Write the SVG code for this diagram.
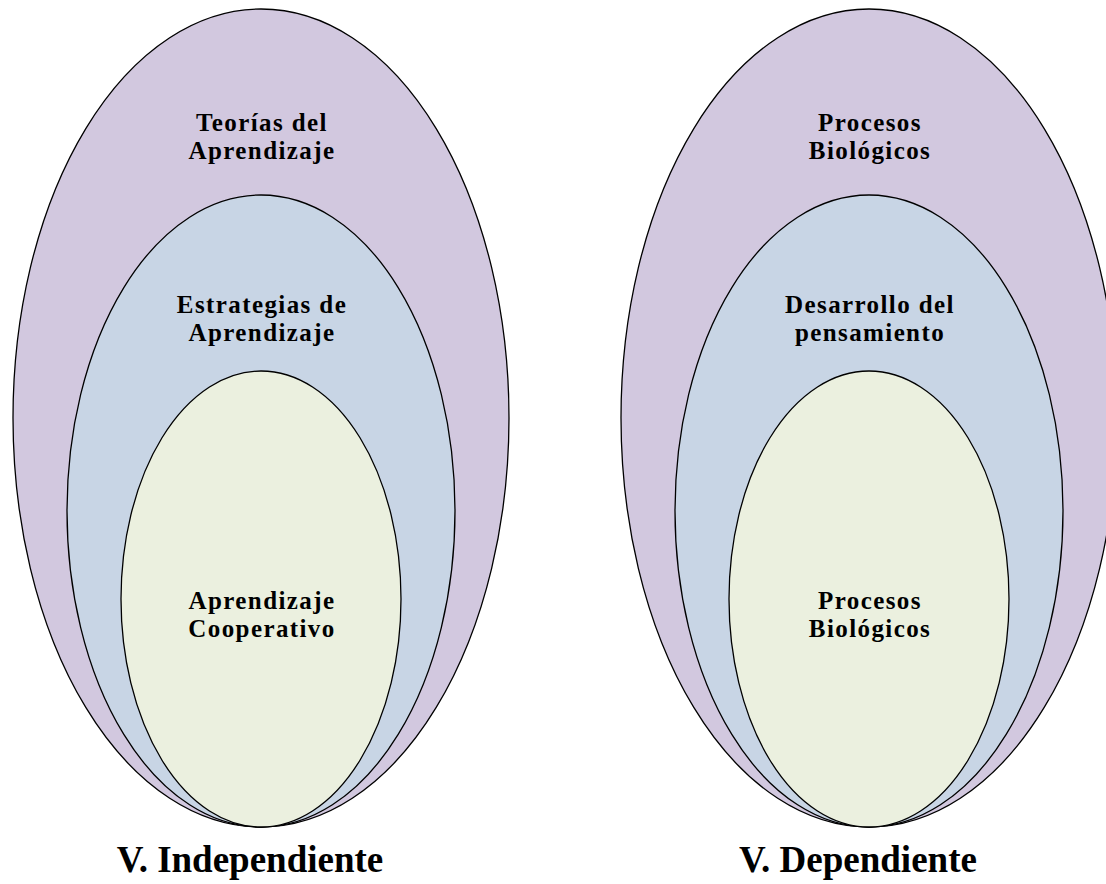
<svg xmlns="http://www.w3.org/2000/svg" width="1106" height="884" viewBox="0 0 1106 884">
<style>
.e{stroke:#000;stroke-width:1.3}
.o{fill:#D2C8DF}
.m{fill:#C8D5E5}
.i{fill:#EBF0DF}
.t{font-family:"Liberation Serif","Times New Roman",serif;font-weight:bold;font-size:25px;letter-spacing:1.4px;text-anchor:middle;fill:#000}
.h{font-family:"Liberation Serif","Times New Roman",serif;font-weight:bold;font-size:37px;text-anchor:middle;fill:#000}
</style>
<rect width="1106" height="884" fill="#fff"/>
<g id="indep-outer"><ellipse class="e o" cx="261" cy="418" rx="248" ry="409"/><text class="t" x="262" y="131">Teorías del</text><text class="t" x="262" y="159">Aprendizaje</text></g>
<g id="indep-middle"><ellipse class="e m" cx="261" cy="511" rx="194" ry="316"/><text class="t" x="262" y="313">Estrategias de</text><text class="t" x="262" y="341">Aprendizaje</text></g>
<g id="indep-inner"><ellipse class="e i" cx="261" cy="599" rx="140" ry="228"/><text class="t" x="262" y="609">Aprendizaje</text><text class="t" x="262" y="637">Cooperativo</text></g>
<g id="dep-outer"><ellipse class="e o" cx="869" cy="418" rx="248" ry="409"/><text class="t" x="870" y="131">Procesos</text><text class="t" x="870" y="159">Biológicos</text></g>
<g id="dep-middle"><ellipse class="e m" cx="869" cy="511" rx="194" ry="316"/><text class="t" x="870" y="313">Desarrollo del</text><text class="t" x="870" y="341">pensamiento</text></g>
<g id="dep-inner"><ellipse class="e i" cx="869" cy="599" rx="140" ry="228"/><text class="t" x="870" y="609">Procesos</text><text class="t" x="870" y="637">Biológicos</text></g>
<g id="connectors"/>
<g id="labels"><text class="h" x="250" y="872">V. Independiente</text><text class="h" x="858" y="872">V. Dependiente</text></g>
</svg>
